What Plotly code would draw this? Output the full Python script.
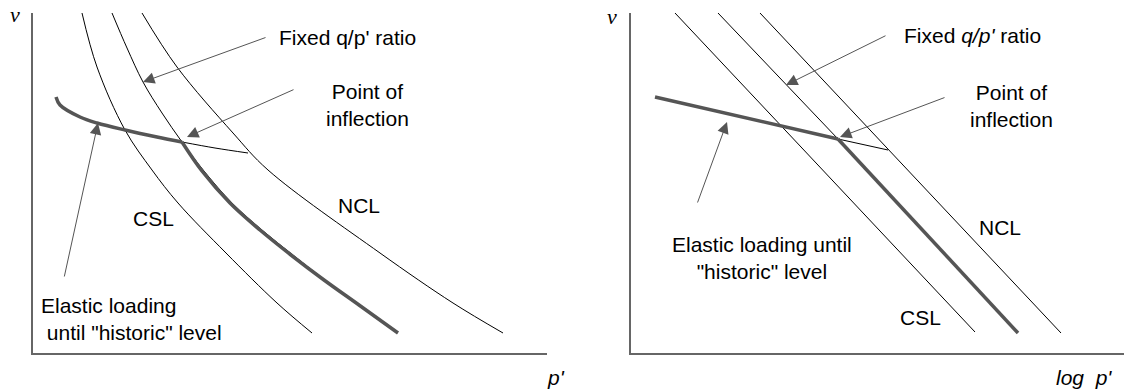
import plotly.graph_objects as go

# ---- Left panel: specific volume v against p' (curved lines) ----
# Units are arbitrary schematic units along each axis.
csl_p = [49, 64, 92, 119, 145, 193, 244, 279]
csl_v = [340, 286, 223, 183, 150, 100, 50, 20]

ratio_p = [79, 94, 110, 129, 149, 171, 199, 229, 260, 292, 327, 365]
ratio_v = [340, 305, 271, 240, 211, 182, 150, 123, 98, 73, 48, 20]

ncl_p = [109, 144, 200, 235, 347, 420, 470]
ncl_v = [340, 286, 220, 183, 100, 50, 20]

elastic_p = [23, 27, 47, 64, 92, 124, 149]
elastic_v = [256, 248, 236, 230, 223, 216, 211]

yield_p = [149, 169, 197, 227, 258, 291, 326, 365]
yield_v = [211, 182, 150, 123, 98, 73, 48, 20]

unload_ext_p = [149, 182, 215]
unload_ext_v = [211, 205, 200]

# ---- Right panel: v against log p' (straight lines) ----
csl_logp = [44, 344]
csl_lv = [340, 21]

ratio_logp = [87, 207]
ratio_lv = [340, 214]

ncl_logp = [129, 430]
ncl_lv = [340, 20]

elastic_logp = [24, 207]
elastic_lv = [256, 214]

yield_logp = [207, 387]
yield_lv = [214, 20]

ext_logp = [207, 257]
ext_lv = [214, 203]

THIN = dict(color="black", width=1)
THICK = dict(color="#555555", width=3.5)
GREY = "#555555"
FONT = dict(family="Arial", size=21, color="black")

fig = go.Figure()


def add_line(x, y, line, xa, ya, shape="linear"):
    fig.add_trace(go.Scatter(x=x, y=y, mode="lines", line=dict(shape=shape, **line),
                             xaxis=xa, yaxis=ya, hoverinfo="skip", showlegend=False))


# left panel curves
add_line(csl_p, csl_v, THIN, "x", "y", "spline")
add_line(ratio_p, ratio_v, THIN, "x", "y", "spline")
add_line(ncl_p, ncl_v, THIN, "x", "y", "spline")
add_line(unload_ext_p, unload_ext_v, THIN, "x", "y", "spline")
add_line(elastic_p, elastic_v, THICK, "x", "y", "spline")
add_line(yield_p, yield_v, THICK, "x", "y", "spline")

# right panel lines
add_line(csl_logp, csl_lv, THIN, "x2", "y2")
add_line(ratio_logp, ratio_lv, THIN, "x2", "y2")
add_line(ncl_logp, ncl_lv, THIN, "x2", "y2")
add_line(ext_logp, ext_lv, THIN, "x2", "y2")
add_line(elastic_logp, elastic_lv, THICK, "x2", "y2")
add_line(yield_logp, yield_lv, THICK, "x2", "y2")

annotations = []


def arrow(xa, ya, head, tail):
    annotations.append(dict(xref=xa, yref=ya, axref=xa, ayref=ya,
                            x=head[0], y=head[1], ax=tail[0], ay=tail[1],
                            text="", showarrow=True, arrowhead=2, arrowsize=2.3,
                            arrowwidth=1, arrowcolor=GREY, standoff=0))


def label(xa, ya, x, y, text, xanchor="center", align="center", font=FONT,
          yanchor="middle"):
    annotations.append(dict(xref=xa, yref=ya, x=x, y=y, text=text, showarrow=False,
                            xanchor=xanchor, yanchor=yanchor, align=align, font=font,
                            borderpad=0))


# left panel labels
arrow("x", "y", (110, 271), (234, 316))
label("x", "y", 245, 316, "Fixed q/p' ratio", xanchor="left")
arrow("x", "y", (154, 216), (262, 264))
label("x", "y", 334, 248, "Point of<br>inflection")
arrow("x", "y", (65, 230), (31, 75))
label("x", "y", 7, 34, "Elastic loading<br> until \"historic\" level", xanchor="left", align="left")
label("x", "y", 120, 135, "CSL")
label("x", "y", 326, 148, "NCL")

# right panel labels
arrow("x2", "y2", (155, 268), (256, 318))
label("x2", "y2", 272, 318, "Fixed <i>q/p'</i> ratio", xanchor="left")
arrow("x2", "y2", (209, 216), (315, 256))
label("x2", "y2", 380, 247, "Point of<br>inflection")
arrow("x2", "y2", (96, 231), (66, 149))
label("x2", "y2", 131, 95, "Elastic loading until<br>\"historic\" level")
label("x2", "y2", 369, 126, "NCL")
label("x2", "y2", 289, 36, "CSL")

W, H = 1126, 391

# axis symbols sit outside the plotting areas, so place them in page coordinates
NU = dict(family="Times New Roman", size=22, color="black")
label("paper", "paper", 15 / W, 1 - 15 / H, "<i>ν</i>", font=NU)
label("paper", "paper", 612 / W, 1 - 16 / H, "<i>ν</i>", font=NU)
label("paper", "paper", 556 / W, 1 / H, "<i>p'</i>", yanchor="bottom")
label("paper", "paper", 1084 / W, 1 / H, "<i>log  p'</i>", yanchor="bottom")

axis_common = dict(showgrid=False, zeroline=False, showticklabels=False, ticks="",
                   showline=True, linecolor="#666666", linewidth=2, fixedrange=True)

fig.update_layout(
    width=W, height=H,
    margin=dict(l=0, r=0, t=0, b=0),
    paper_bgcolor="white", plot_bgcolor="white",
    xaxis=dict(domain=[33 / W, 547 / W], range=[0, 514], anchor="y", **axis_common),
    yaxis=dict(domain=[38 / H, 378 / H], range=[0, 340], anchor="x", **axis_common),
    xaxis2=dict(domain=[631 / W, 1124 / W], range=[0, 493], anchor="y2", **axis_common),
    yaxis2=dict(domain=[38 / H, 378 / H], range=[0, 340], anchor="x2", **axis_common),
    annotations=annotations,
)

fig.write_html("out.html", config=dict(displayModeBar=False))
